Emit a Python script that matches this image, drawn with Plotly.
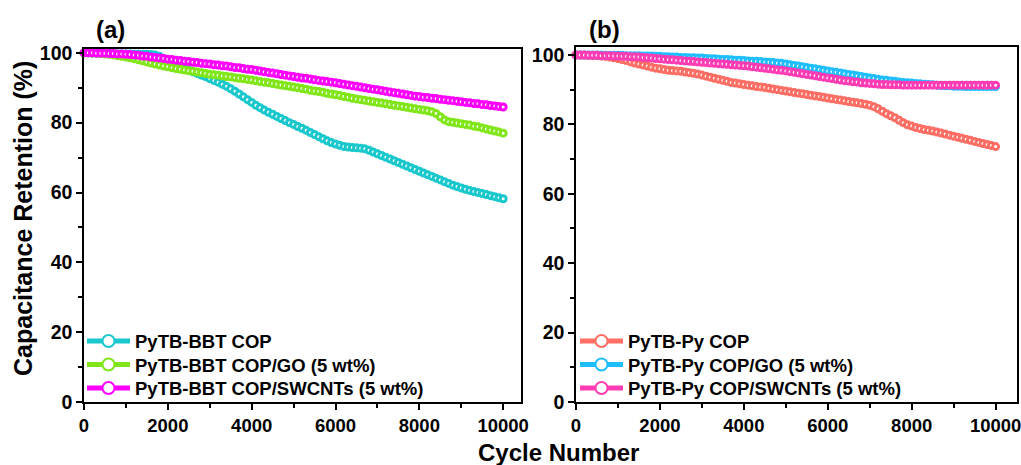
import plotly.graph_objects as go

cycles = list(range(0, 10001, 100))

bbt_cop = [
    100.0, 100.0, 99.9, 99.9, 99.9, 99.8, 99.8, 99.8, 99.7, 99.7,
    99.7, 99.7, 99.6, 99.6, 99.6, 99.6, 99.5, 99.4, 99.0, 98.4,
    97.7, 97.1, 96.6, 96.0, 95.5, 95.0, 94.6, 94.1, 93.6, 93.2,
    92.6, 92.1, 91.6, 91.0, 90.4, 89.7, 89.0, 88.2, 87.4, 86.6,
    85.8, 85.0, 84.3, 83.6, 83.0, 82.4, 81.8, 81.2, 80.6, 80.0,
    79.5, 78.9, 78.4, 77.8, 77.2, 76.6, 76.0, 75.4, 74.8, 74.3,
    73.9, 73.5, 73.2, 73.0, 72.9, 72.8, 72.7, 72.5, 72.1, 71.6,
    71.1, 70.6, 70.1, 69.6, 69.1, 68.6, 68.1, 67.6, 67.1, 66.6,
    66.1, 65.6, 65.1, 64.6, 64.1, 63.6, 63.1, 62.6, 62.1, 61.7,
    61.3, 60.9, 60.6, 60.3, 60.0, 59.7, 59.4, 59.1, 58.8, 58.5,
    58.2,
]
bbt_go = [
    100.0, 100.0, 99.9, 99.9, 99.8, 99.7, 99.6, 99.4, 99.2, 99.0,
    98.8, 98.6, 98.3, 98.0, 97.7, 97.4, 97.1, 96.8, 96.5, 96.2,
    96.0, 95.7, 95.5, 95.3, 95.1, 94.9, 94.7, 94.5, 94.3, 94.1,
    93.9, 93.7, 93.6, 93.4, 93.2, 93.1, 92.9, 92.7, 92.6, 92.4,
    92.2, 92.0, 91.8, 91.6, 91.4, 91.2, 91.0, 90.8, 90.6, 90.4,
    90.2, 90.0, 89.8, 89.6, 89.3, 89.1, 88.9, 88.7, 88.4, 88.2,
    88.0, 87.8, 87.5, 87.3, 87.0, 86.8, 86.6, 86.4, 86.2, 86.0,
    85.8, 85.6, 85.4, 85.2, 85.0, 84.8, 84.6, 84.4, 84.2, 84.0,
    83.8, 83.6, 83.4, 83.1, 82.6, 81.7, 80.8, 80.3, 80.1, 79.9,
    79.7, 79.5, 79.3, 79.0, 78.8, 78.5, 78.2, 77.9, 77.6, 77.3,
    77.0,
]
bbt_swcnt = [
    100.0, 100.0, 100.0, 99.9, 99.9, 99.9, 99.8, 99.8, 99.7, 99.7,
    99.6, 99.5, 99.4, 99.3, 99.1, 99.0, 98.8, 98.7, 98.5, 98.4,
    98.2, 98.1, 97.9, 97.8, 97.6, 97.5, 97.3, 97.2, 97.0, 96.9,
    96.8, 96.6, 96.5, 96.3, 96.2, 96.0, 95.8, 95.7, 95.5, 95.3,
    95.2, 95.0, 94.8, 94.6, 94.4, 94.2, 94.0, 93.8, 93.6, 93.4,
    93.2, 93.0, 92.8, 92.7, 92.5, 92.3, 92.1, 91.9, 91.8, 91.6,
    91.4, 91.2, 91.0, 90.8, 90.6, 90.4, 90.2, 90.0, 89.8, 89.6,
    89.4, 89.2, 89.0, 88.8, 88.6, 88.4, 88.2, 88.0, 87.8, 87.6,
    87.5, 87.3, 87.2, 87.0, 86.9, 86.7, 86.6, 86.4, 86.3, 86.1,
    86.0, 85.8, 85.7, 85.5, 85.4, 85.2, 85.1, 84.9, 84.8, 84.6,
    84.5,
]
py_cop = [
    100.0, 100.0, 99.9, 99.9, 99.8, 99.8, 99.7, 99.6, 99.4, 99.2,
    99.0, 98.7, 98.4, 98.0, 97.7, 97.4, 97.1, 96.8, 96.5, 96.2,
    96.0, 95.8, 95.6, 95.5, 95.4, 95.3, 95.1, 94.9, 94.7, 94.5,
    94.2, 93.9, 93.6, 93.3, 93.0, 92.7, 92.4, 92.1, 91.9, 91.7,
    91.5, 91.3, 91.1, 90.9, 90.8, 90.6, 90.4, 90.2, 90.0, 89.8,
    89.6, 89.4, 89.2, 89.0, 88.8, 88.6, 88.4, 88.2, 88.0, 87.8,
    87.6, 87.4, 87.2, 87.0, 86.8, 86.6, 86.4, 86.2, 86.0, 85.8,
    85.5, 85.1, 84.5, 83.8, 83.1, 82.5, 81.9, 81.2, 80.5, 79.9,
    79.5, 79.1, 78.8, 78.5, 78.3, 78.1, 77.8, 77.5, 77.2, 76.9,
    76.6, 76.3, 76.0, 75.7, 75.4, 75.1, 74.8, 74.5, 74.2, 73.9,
    73.6,
]
py_go = [
    100.0, 100.0, 100.0, 100.0, 100.0, 100.0, 100.0, 99.9, 99.9, 99.9,
    99.9, 99.9, 99.8, 99.8, 99.8, 99.8, 99.7, 99.7, 99.7, 99.6,
    99.6, 99.5, 99.5, 99.4, 99.4, 99.3, 99.3, 99.2, 99.2, 99.1,
    99.1, 99.0, 98.9, 98.9, 98.8, 98.7, 98.7, 98.6, 98.5, 98.5,
    98.4, 98.3, 98.2, 98.2, 98.1, 98.0, 97.9, 97.8, 97.7, 97.6,
    97.4, 97.2, 97.0, 96.8, 96.6, 96.4, 96.2, 96.0, 95.8, 95.6,
    95.4, 95.2, 95.0, 94.8, 94.6, 94.4, 94.2, 94.0, 93.8, 93.6,
    93.4, 93.2, 93.0, 92.8, 92.7, 92.5, 92.4, 92.2, 92.1, 92.0,
    91.9, 91.8, 91.7, 91.6, 91.5, 91.4, 91.3, 91.2, 91.1, 91.1,
    91.0, 91.0, 91.0, 90.9, 90.9, 90.9, 90.9, 90.9, 90.9, 90.9,
    90.9,
]
py_swcnt = [
    100.0, 100.0, 100.0, 99.9, 99.9, 99.9, 99.8, 99.8, 99.8, 99.7,
    99.7, 99.6, 99.6, 99.5, 99.5, 99.4, 99.3, 99.2, 99.1, 99.0,
    98.9, 98.8, 98.7, 98.6, 98.5, 98.4, 98.3, 98.2, 98.1, 98.0,
    97.9, 97.8, 97.7, 97.6, 97.5, 97.4, 97.3, 97.2, 97.1, 97.0,
    96.9, 96.8, 96.6, 96.5, 96.3, 96.2, 96.0, 95.9, 95.7, 95.6,
    95.4, 95.2, 95.0, 94.8, 94.6, 94.4, 94.2, 94.0, 93.8, 93.6,
    93.4, 93.2, 93.0, 92.8, 92.6, 92.5, 92.3, 92.2, 92.0, 91.9,
    91.8, 91.7, 91.6, 91.5, 91.5, 91.4, 91.4, 91.4, 91.3, 91.3,
    91.3, 91.3, 91.3, 91.3, 91.3, 91.3, 91.3, 91.3, 91.3, 91.3,
    91.3, 91.3, 91.3, 91.3, 91.3, 91.3, 91.3, 91.3, 91.3, 91.3,
    91.3,
]

names_a = ["PyTB-BBT COP", "PyTB-BBT COP/GO (5 wt%)", "PyTB-BBT COP/SWCNTs (5 wt%)"]
names_b = ["PyTB-Py COP", "PyTB-Py COP/GO (5 wt%)", "PyTB-Py COP/SWCNTs (5 wt%)"]
colors_a = ["#19C8CC", "#80E619", "#FF00FF"]
colors_b = ["#FF6E64", "#1EBEFF", "#FF3CB4"]
series_a = [bbt_cop, bbt_go, bbt_swcnt]
series_b = [py_cop, py_go, py_swcnt]

FONT = "Liberation Sans, Arial, sans-serif"
W, H = 1021, 465

fig = go.Figure()
legend_ids = ["legend", "legend2", "legend3", "legend4", "legend5", "legend6"]
panels = [("x", "y", names_a, colors_a, series_a), ("x2", "y2", names_b, colors_b, series_b)]
k = 0
for xa, ya, names, colors, series in panels:
    for name, col, ys in zip(names, colors, series):
        fig.add_trace(go.Scatter(
            x=cycles, y=ys, name=name, mode="lines+markers",
            line=dict(color=col, width=3),
            marker=dict(symbol="circle", size=6, color="white", line=dict(color=col, width=3)),
            xaxis=xa, yaxis=ya, legend=legend_ids[k], cliponaxis=False,
        ))
        k += 1


def xdom(a, b):
    return [a / W, b / W]


def ydom(top, bottom):
    return [1 - bottom / H, 1 - top / H]


ytickfont = dict(family=FONT, size=19.5, color="black", weight="bold")
xtickfont = dict(family=FONT, size=18.5, color="black", weight="bold")
axis_common = dict(
    showline=True, linewidth=1.5, linecolor="black", mirror=True,
    showgrid=False, zeroline=False, ticks="outside", ticklen=6, tickwidth=1.5,
    tickcolor="black", tickformat="d", automargin=False,
    ticklabeloverflow="allow",
)
minor = dict(ticks="outside", ticklen=4, tickwidth=1.5, tickcolor="black")
legend_font = dict(family=FONT, size=18.5, color="black", weight="bold")

legend_rows = [341.5, 365, 388.5]
legend_layout = {}
for i, lid in enumerate(legend_ids):
    lx = 82 if i < 3 else 575
    legend_layout[lid] = dict(
        x=lx / W, y=1 - legend_rows[i % 3] / H, xanchor="left", yanchor="middle",
        bgcolor="rgba(0,0,0,0)", font=legend_font, itemwidth=43,
        itemsizing="constant", borderwidth=0,
    )

fig.update_layout(
    width=W, height=H,
    margin=dict(l=0, r=0, t=0, b=0, pad=0, autoexpand=False),
    paper_bgcolor="white", plot_bgcolor="white",
    showlegend=True,
    xaxis=dict(domain=xdom(84, 521), range=[0, 10425], dtick=2000, tick0=0,
               minor=dict(dtick=1000, **minor), anchor="y", tickfont=xtickfont, **axis_common),
    yaxis=dict(domain=ydom(49, 402), range=[0, 101.1], dtick=20, tick0=0,
               minor=dict(dtick=10, **minor), anchor="x", tickfont=ytickfont, **axis_common),
    xaxis2=dict(domain=xdom(576, 1017), range=[0, 10510], dtick=2000, tick0=0,
                minor=dict(dtick=1000, **minor), anchor="y2", tickfont=xtickfont, **axis_common),
    yaxis2=dict(domain=ydom(47, 402), range=[0, 102.3], dtick=20, tick0=0,
                minor=dict(dtick=10, **minor), anchor="x2", tickfont=ytickfont, **axis_common),
    annotations=[
        dict(text="(a)", x=110 / W, y=1 - 29 / H, xref="paper", yref="paper",
             xanchor="center", yanchor="middle", showarrow=False,
             font=dict(family=FONT, size=24, color="black", weight="bold")),
        dict(text="(b)", x=604 / W, y=1 - 29 / H, xref="paper", yref="paper",
             xanchor="center", yanchor="middle", showarrow=False,
             font=dict(family=FONT, size=24, color="black", weight="bold")),
        dict(text="Cycle Number", x=558 / W, y=1 - 452 / H, xref="paper", yref="paper",
             xanchor="center", yanchor="middle", showarrow=False,
             font=dict(family=FONT, size=24, color="black", weight="bold")),
        dict(text="Capacitance Retention (%)", x=23 / W, y=1 - 219 / H, xref="paper", yref="paper",
             xanchor="center", yanchor="middle", textangle=-90, showarrow=False,
             font=dict(family=FONT, size=25, color="black", weight="bold")),
    ],
    **legend_layout,
)

fig.write_html("out.html")
